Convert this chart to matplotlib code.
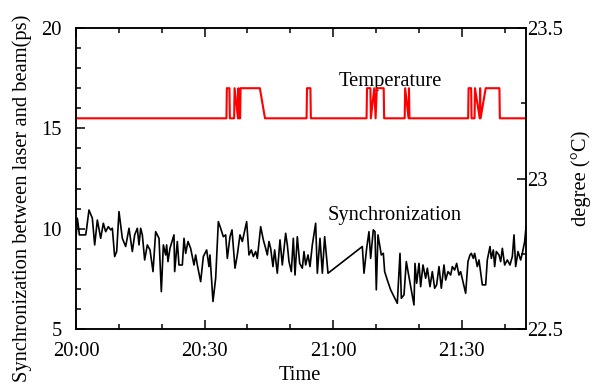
import numpy as np
import matplotlib
matplotlib.use("Agg")
import matplotlib.pyplot as plt
from matplotlib.ticker import MultipleLocator, FixedLocator

plt.rcParams['font.family'] = ['Liberation Serif', 'DejaVu Serif']

# Synchronization between laser and beam (ps), minutes after 20:00
sync_min = [0.0, 0.31, 0.62, 0.78, 2.26, 2.49, 3.03, 3.81, 4.36, 4.98, 5.76, 6.38, 6.92, 7.54,
            8.09, 8.48, 9.02, 9.49, 10.03, 10.81, 11.59, 12.37, 13.14, 13.69, 14.31, 14.70,
            15.09, 15.48, 16.02, 16.64, 17.27, 17.97, 18.59, 19.37, 19.91, 20.38, 20.92,
            21.15, 21.46, 21.93, 22.86, 23.02, 23.64, 24.03, 24.81, 25.20, 25.59, 26.13,
            26.75, 27.53, 27.92, 28.31, 29.09, 29.71, 30.49, 31.03, 31.26, 31.96, 32.59,
            33.21, 33.75, 34.38, 34.92, 35.31, 35.93, 36.40, 37.10, 37.64, 38.26, 38.81,
            39.82, 40.36, 40.91, 41.38, 41.92, 42.31, 43.09, 43.71, 44.25, 44.64, 45.03,
            45.42, 45.96, 46.35, 46.97, 47.60, 48.14, 48.92, 49.31, 49.70, 50.24, 50.71,
            51.10, 51.64, 52.19, 52.81, 53.20, 53.59, 54.13, 54.60, 55.14, 55.92, 56.31,
            56.93, 57.48, 58.02, 58.80,
            66.81, 67.20, 67.82, 68.36, 68.75, 69.37, 69.76, 70.07, 70.46, 71.24, 71.71,
            72.02, 72.64, 73.42, 74.97, 75.60, 75.91, 76.53, 77.07, 77.54, 78.86, 79.10,
            79.49, 80.03, 80.42, 80.96, 81.59, 81.98, 82.60, 83.14, 83.69, 84.15, 84.70,
            85.24, 85.86, 86.25, 86.80, 87.42, 87.81, 88.35, 88.82, 89.36, 89.75, 90.92,
            91.46, 91.93, 92.24, 92.71, 93.02, 93.64, 94.03, 94.81, 95.59, 95.97, 96.60,
            96.91, 97.38, 97.69, 98.07, 98.70, 99.09, 99.48, 100.02, 100.64, 101.26,
            101.81, 102.20, 102.59, 103.13, 103.75, 104.14, 104.69, 105.0]
sync_ps = [9.52, 10.52, 10.02, 9.69, 9.69, 10.02, 10.93, 10.52, 9.19, 10.43, 9.52, 10.27, 9.85, 10.10,
           9.94, 10.02, 8.61, 8.86, 10.85, 9.52, 9.11, 10.02, 8.86, 9.69, 10.02, 9.19,
           10.02, 9.69, 8.44, 9.19, 8.94, 7.86, 9.85, 9.52, 6.86, 9.19, 8.69,
           9.19, 8.36, 9.02, 9.69, 7.86, 9.36, 8.19, 8.19, 9.52, 8.77, 9.36,
           9.02, 8.19, 8.69, 8.19, 7.36, 8.61, 8.94, 8.11, 8.69, 6.37, 7.53,
           10.35, 10.02, 9.60, 9.69, 8.52, 9.60, 9.94, 8.03, 8.69, 9.69, 9.36,
           10.35, 8.69, 8.94, 8.61, 8.86, 8.52, 10.10, 9.44, 9.02, 8.69, 9.36,
           9.02, 8.11, 8.94, 7.78, 9.44, 8.19, 9.77, 9.19, 8.36, 7.86, 9.52,
           7.69, 9.60, 8.27, 8.03, 8.86, 8.19, 8.69, 8.11, 9.19, 10.27, 7.78,
           9.52, 7.78, 9.60, 7.78,
           9.11, 7.78, 9.02, 9.85, 8.52, 9.94, 9.85, 6.95, 9.69, 8.69, 8.77,
           7.86, 7.44, 6.95, 6.28, 8.77, 6.53, 6.70, 8.36, 7.78, 6.20, 8.27,
           7.28, 8.27, 7.11, 8.19, 7.53, 8.03, 7.11, 7.86, 7.03, 7.20, 8.11,
           7.03, 8.19, 7.44, 7.86, 7.69, 8.11, 7.94, 8.27, 7.69, 7.86, 6.78,
           8.36, 8.69, 8.77, 8.52, 8.77, 8.11, 8.44, 7.20, 7.20, 8.44, 9.11,
           8.52, 8.94, 8.11, 8.86, 8.69, 8.36, 9.02, 8.19, 8.44, 8.19,
           8.61, 9.69, 8.11, 8.86, 8.44, 8.77, 9.36, 10.08]

# Temperature (degree C)
temp_min = [0.0, 35.1, 35.2, 35.8, 35.9, 36.9, 37.0, 37.8, 37.9, 38.0, 38.3, 38.4, 42.9, 44.1,
            53.8, 53.9, 54.7, 54.8, 67.8, 67.9, 68.7, 68.8, 69.6, 69.9, 70.2, 71.8, 71.9,
            76.7, 76.8, 77.6, 77.7, 77.8, 91.5, 91.6, 92.2, 92.3, 93.0, 93.1, 94.2, 94.3,
            94.4, 95.6, 98.8, 98.9, 105.0]
temp_c = [23.2, 23.2, 23.3, 23.3, 23.2, 23.2, 23.3, 23.2, 23.3, 23.2, 23.2, 23.3, 23.3, 23.2,
          23.2, 23.3, 23.3, 23.2, 23.2, 23.3, 23.3, 23.2, 23.3, 23.2, 23.3, 23.3, 23.2,
          23.2, 23.3, 23.2, 23.3, 23.2, 23.2, 23.3, 23.3, 23.2, 23.2, 23.3, 23.2, 23.3,
          23.2, 23.3, 23.3, 23.2, 23.2]

time_ticks = [0, 30, 60, 90]
time_labels = ['20:00', '20:30', '21:00', '21:30']

fs = 14.8
fig = plt.figure(figsize=(5.95, 3.85), dpi=100)
ax = fig.add_axes([76/595, 1-329/385, 450/595, 301/385])
ax2 = ax.twinx()

ax.plot(sync_min, sync_ps, color='black', lw=1.2)
ax2.plot(temp_min, temp_c, color='red', lw=1.5)

ax.set_xlim(0, 105)
ax.set_ylim(5, 20)
ax2.set_ylim(22.5, 23.5)

ax.set_xticks(time_ticks)
ax.set_xticklabels(time_labels)
ax.xaxis.set_minor_locator(MultipleLocator(10))
ax.set_yticks([5, 10, 15, 20])
ax.yaxis.set_minor_locator(MultipleLocator(1))
ax2.yaxis.set_major_locator(FixedLocator([22.5, 23, 23.5]))
ax2.set_yticklabels(['22.5', '23', '23.5'])
ax2.yaxis.set_minor_locator(MultipleLocator(0.25))

ax.tick_params(axis='x', which='both', direction='in', top=True, bottom=True, labelsize=fs, pad=9)
ax.tick_params(axis='y', which='both', direction='in', left=True, right=False, labelsize=fs, pad=10)
ax.tick_params(which='major', length=6.5, width=1.1)
ax.tick_params(which='minor', length=3.6, width=1.1)
ax2.tick_params(axis='y', which='both', direction='in', labelsize=fs, pad=1)
ax2.tick_params(which='major', length=6.5, width=1.1)
ax2.tick_params(which='minor', length=3.6, width=1.1)

for a in (ax, ax2):
    for s in a.spines.values():
        s.set_linewidth(1.1)

ax.text(0.698, 0.807, 'Temperature', transform=ax.transAxes, ha='center', va='baseline', fontsize=fs)
ax.text(0.708, 0.362, 'Synchronization', transform=ax.transAxes, ha='center', va='baseline', fontsize=fs)

fig.text(22/595, 1-198/385, 'Synchronization between laser and beam(ps)', rotation=90,
         ha='center', va='center', fontsize=fs)
fig.text(581/595, 1-178/385, 'degree (\u00b0C)', rotation=90, ha='center', va='center', fontsize=fs)
fig.text(300/595, 1-366/385, 'Time', ha='center', va='top', fontsize=fs)

fig.savefig('out.png', dpi=100)
